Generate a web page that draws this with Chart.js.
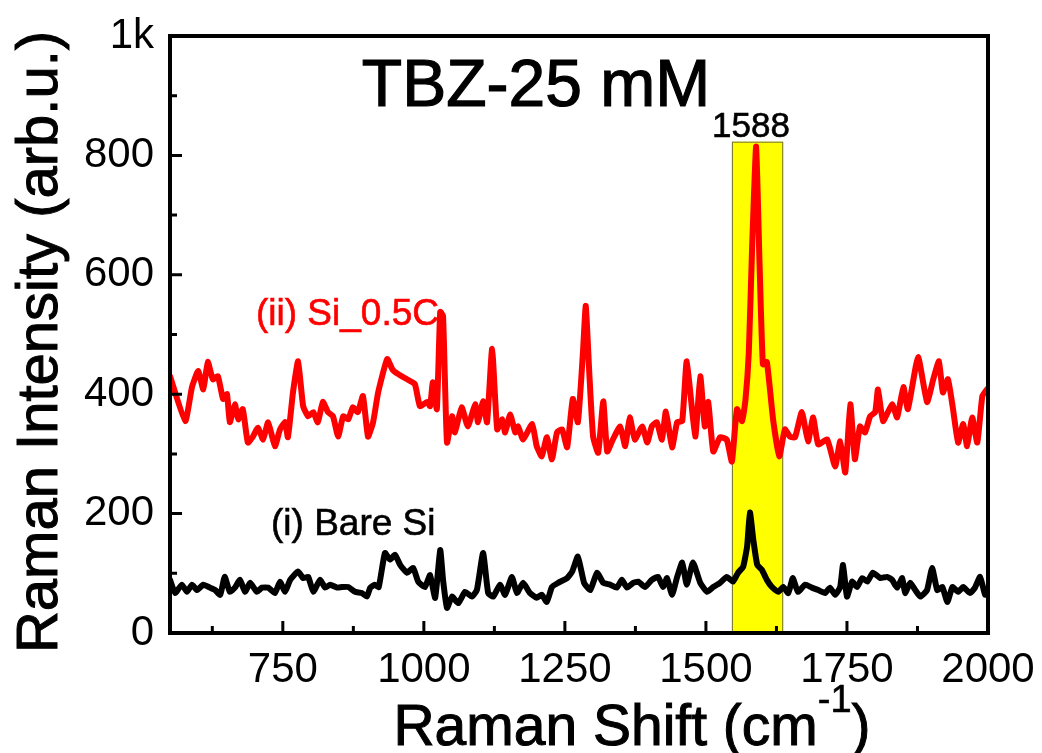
<!DOCTYPE html>
<html>
<head>
<meta charset="utf-8">
<script src="https://cdn.jsdelivr.net/npm/chart.js@4/dist/chart.umd.min.js"></script>
<style>
html,body{margin:0;padding:0;background:#fff;}
#wrap{width:1042px;height:753px;}
</style>
</head>
<body>
<div id="wrap"><canvas id="c" width="1042" height="753"></canvas></div>
<script>
const FONT = "'Liberation Sans', Arial, sans-serif";

// ---- data ----
const redShift = [550,577,589,600,609,617,626,635,644,651,656,665,671,679,688,697,706,715,724,736,745,754,759,768,777,786,795,804,812,821,830,839,848,857,866,874,883,892,901,910,919,935,944,954,970,984,993,1006,1011,1016,1023,1029,1034,1041,1050,1055,1067,1078,1091,1096,1105,1112,1121,1130,1139,1144,1153,1162,1167,1176,1192,1200,1209,1218,1227,1236,1245,1254,1264,1273,1282,1287,1293,1300,1309,1318,1325,1335,1348,1357,1365,1374,1387,1396,1404,1413,1422,1429,1440,1449,1458,1466,1481,1490,1498,1504,1513,1525,1537,1546,1555,1564,1570,1576,1582,1589,1595,1601,1608,1619,1630,1640,1649,1658,1670,1681,1690,1699,1715,1729,1738,1747,1756,1764,1773,1782,1791,1800,1805,1814,1830,1839,1850,1858,1876,1892,1903,1913,1920,1929,1938,1947,1956,1963,1972,1981,1990,1998];
const redIntensity = [430,355,412,439,408,454,425,430,392,400,353,383,358,375,319,329,344,324,353,313,341,353,328,403,455,380,363,370,353,387,370,363,329,363,358,378,370,397,329,353,403,459,442,434,425,417,380,387,380,420,375,538,531,319,363,336,378,346,383,353,388,353,476,341,358,336,366,336,346,324,350,313,296,328,291,336,341,311,392,353,470,548,440,329,302,388,304,324,346,313,361,324,346,319,346,353,324,371,311,353,355,455,329,430,346,387,304,328,324,287,375,355,390,470,650,815,620,450,454,358,296,341,329,328,370,321,361,316,324,279,321,269,383,291,346,336,363,370,408,355,383,361,412,375,462,387,425,455,403,425,375,319,350,313,361,319,397,408];

const blackShift = [550,559,571,580,589,598,609,621,630,639,647,656,665,674,683,692,704,713,724,736,745,754,763,777,786,795,804,816,825,834,846,855,866,878,890,899,905,913,920,931,940,949,958,970,981,990,1002,1011,1020,1029,1034,1041,1050,1061,1073,1085,1094,1105,1114,1123,1135,1144,1156,1165,1176,1188,1200,1209,1218,1227,1238,1254,1263,1273,1284,1295,1307,1318,1330,1342,1351,1360,1371,1380,1392,1404,1415,1424,1431,1440,1449,1458,1466,1477,1490,1502,1513,1525,1537,1548,1557,1566,1573,1578,1584,1591,1599,1608,1617,1628,1637,1646,1654,1663,1676,1688,1699,1711,1720,1729,1738,1743,1750,1759,1768,1777,1786,1796,1809,1821,1830,1839,1848,1853,1862,1871,1880,1892,1901,1910,1919,1928,1937,1947,1956,1968,1977,1986,1995,2000];
const blackIntensity = [89,67,81,69,81,72,81,76,72,64,94,69,76,89,69,84,69,76,76,67,86,69,89,103,92,94,69,89,76,81,76,77,77,69,67,61,76,81,77,134,123,131,114,101,109,86,77,97,59,139,89,42,61,50,69,61,72,134,67,61,81,64,94,67,84,67,59,64,52,77,84,92,103,128,84,72,101,84,81,76,89,76,84,86,77,89,94,77,92,64,94,118,81,118,84,69,77,84,94,86,101,111,145,202,156,114,106,89,77,69,77,67,92,69,81,76,72,67,76,64,77,114,61,86,77,92,86,101,92,94,89,76,92,67,84,72,61,72,109,72,77,52,77,69,77,67,76,94,64,75];

const xTickValues = [750,1000,1250,1500,1750,2000];
const xMinorValues = [625,875,1125,1375,1625,1875];
const yTickValues = [0,200,400,600,800,1000];
const yMinorValues = [100,300,500,700,900];

const highlightBand = [1546,1637];   // Raman shift range
const highlightTop = 823;
const peakLabel = "1588";
const chartTitle = "TBZ-25 mM";
const redLabel = "(ii) Si_0.5C";
const blackLabel = "(i) Bare Si";

const toXY = (xs, ys) => xs.map((v,i)=>({x:v, y:ys[i]}));

function heavyText(ctx, txt, x, y, w){
  ctx.fillText(txt, x, y);
  ctx.lineWidth = w;
  ctx.strokeStyle = ctx.fillStyle;
  ctx.strokeText(txt, x, y);
}

const deco = {
  id: 'deco',
  beforeDatasetsDraw(chart){
    const {ctx, scales:{x,y}} = chart;
    const x1 = x.getPixelForValue(highlightBand[0]);
    const x2 = x.getPixelForValue(highlightBand[1]);
    const yt = y.getPixelForValue(highlightTop);
    const yb = y.getPixelForValue(0);
    ctx.save();
    ctx.fillStyle = '#ffff00';
    ctx.fillRect(x1, yt, x2-x1, yb-yt);
    ctx.strokeStyle = '#6f6f3a';
    ctx.lineWidth = 1;
    ctx.strokeRect(x1+0.5, yt+0.5, x2-x1-1, yb-yt);
    ctx.restore();
  },
  afterDatasetsDraw(chart){
    const {ctx, chartArea:a, scales:{x,y}} = chart;
    ctx.save();
    // frame
    ctx.strokeStyle = '#000';
    ctx.lineWidth = 4;
    ctx.strokeRect(a.left, a.top, a.right-a.left, a.bottom-a.top);
    // ticks (inward)
    ctx.lineWidth = 3;
    ctx.beginPath();
    xTickValues.forEach(v=>{const p=x.getPixelForValue(v); ctx.moveTo(p,a.bottom); ctx.lineTo(p,a.bottom-12);});
    xMinorValues.forEach(v=>{const p=x.getPixelForValue(v); ctx.moveTo(p,a.bottom); ctx.lineTo(p,a.bottom-7);});
    yTickValues.forEach(v=>{const p=y.getPixelForValue(v); ctx.moveTo(a.left,p); ctx.lineTo(a.left+12,p);});
    yMinorValues.forEach(v=>{const p=y.getPixelForValue(v); ctx.moveTo(a.left,p); ctx.lineTo(a.left+7,p);});
    ctx.stroke();

    // title
    ctx.fillStyle = '#000';
    ctx.textAlign = 'center';
    ctx.textBaseline = 'alphabetic';
    ctx.font = `66px ${FONT}`;
    heavyText(ctx, chartTitle, 536, 106, 1.2);
    // peak label
    ctx.font = `35px ${FONT}`;
    heavyText(ctx, peakLabel, 751, 137, 0.6);
    // series labels
    ctx.textAlign = 'left';
    ctx.font = `37px ${FONT}`;
    ctx.fillStyle = '#ff0000';
    heavyText(ctx, redLabel, 256, 325, 0.6);
    ctx.fillStyle = '#000';
    heavyText(ctx, blackLabel, 271, 535, 0.6);

    // y axis title
    ctx.save();
    ctx.translate(57, 342);
    ctx.rotate(-Math.PI/2);
    ctx.textAlign = 'center';
    ctx.font = `58px ${FONT}`;
    heavyText(ctx, 'Raman Intensity (arb.u.)', 0, 0, 1);
    ctx.restore();

    // x axis title with superscript
    const main1 = 'Raman Shift (cm', sup = '-1', main2 = ')';
    ctx.font = `57px ${FONT}`;
    const w1 = ctx.measureText(main1).width;
    const w3 = ctx.measureText(main2).width;
    ctx.font = `38px ${FONT}`;
    const w2 = ctx.measureText(sup).width;
    const total = w1 + w2 + w3;
    let sx = 632 - total/2;
    ctx.textAlign = 'left';
    ctx.font = `57px ${FONT}`;
    heavyText(ctx, main1, sx, 745, 1);
    ctx.font = `38px ${FONT}`;
    heavyText(ctx, sup, sx + w1, 712, 0.6);
    ctx.font = `57px ${FONT}`;
    heavyText(ctx, main2, sx + w1 + w2, 745, 1);
    ctx.restore();
  }
};

new Chart(document.getElementById('c'), {
  type: 'line',
  data: {
    datasets: [
      {label: redLabel, data: toXY(redShift, redIntensity), borderColor:'#ff0000', backgroundColor:'#ff0000'},
      {label: blackLabel, data: toXY(blackShift, blackIntensity), borderColor:'#000000', backgroundColor:'#000000'}
    ]
  },
  options: {
    responsive: false,
    animation: false,
    layout: {padding: {top: 36, right: 54, left: 0, bottom: 0}},
    plugins: {legend: {display: false}, tooltip: {enabled: false}, title: {display: false}},
    elements: {
      point: {radius: 0},
      line: {tension: 0.15, borderWidth: 6, borderJoinStyle: 'round', borderCapStyle: 'round'}
    },
    scales: {
      x: {
        type: 'linear', min: 550, max: 2000,
        afterBuildTicks: s => { s.ticks = xTickValues.map(v=>({value:v})); },
        afterFit: s => { s.height = 120; s.paddingLeft = 0; s.paddingRight = 0; },
        grid: {display: false, drawTicks: false},
        border: {display: false},
        ticks: {color:'#000', font:{size:42, family:FONT}, padding: 12, maxRotation:0, autoSkip:false, callback: v => String(v)}
      },
      y: {
        type: 'linear', min: 0, max: 1000,
        afterBuildTicks: s => { s.ticks = yTickValues.map(v=>({value:v})); },
        afterFit: s => { s.width = 170; s.paddingTop = 0; s.paddingBottom = 0; },
        grid: {display: false, drawTicks: false},
        border: {display: false},
        ticks: {color:'#000', font:{size:42, family:FONT}, padding: 16, callback: v => v === 1000 ? '1k' : String(v)}
      }
    }
  },
  plugins: [deco]
});
</script>
</body>
</html>
